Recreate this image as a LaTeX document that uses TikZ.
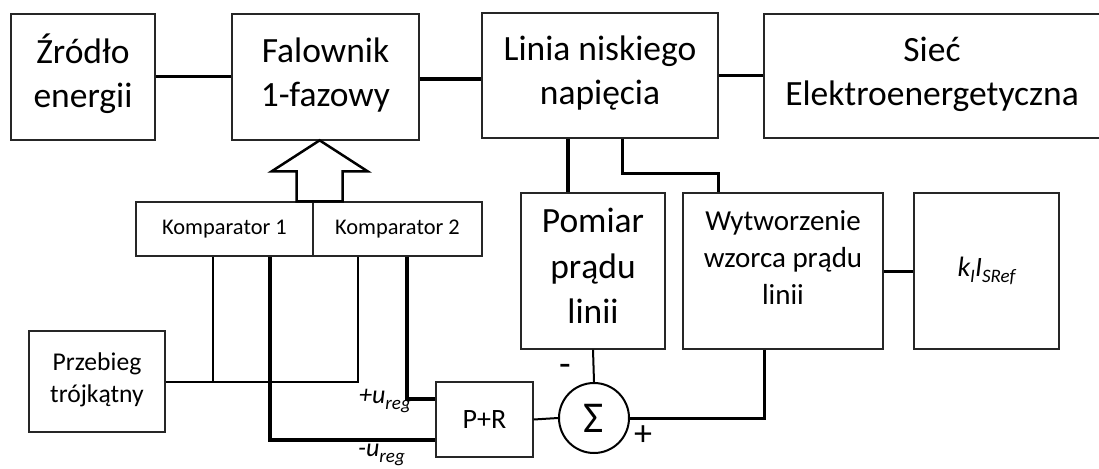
\documentclass[tikz,border=0pt]{standalone}
\usepackage{fontspec}
\setmainfont{Carlito}
\newcommand\bstrut{\vrule height .75em depth .35em width 0pt}
\newcommand\lowidx[2]{\raisebox{-0.2em}{\fontsize{#1}{#1}\selectfont #2}}
\begin{document}
\begin{tikzpicture}[x=1pt,y=-1pt,
  box/.style={draw=black!85, line width=1.3pt, rectangle, inner sep=0pt, align=center},
  bigtxt/.style={font=\fontsize{35.5}{44}\selectfont},
  wA/.style={line width=4pt},
  wB/.style={line width=3pt},
  wC/.style={line width=2pt}]
\useasboundingbox (0,0) rectangle (1099,468);

% power path
\node[box,bigtxt,minimum width=144,minimum height=126] (zrodlo) at (83,77) {\bstrut Źródło\\energii\bstrut};
\node[box,bigtxt,minimum width=187,minimum height=126] (falownik) at (325.5,77) {\bstrut Falownik\\1-fazowy\bstrut};
\node[box,bigtxt,minimum width=236,minimum height=125] (linia) at (600,75.5) {\bstrut Linia niskiego\\napięcia\bstrut};
\node[box,bigtxt,minimum width=336,minimum height=124] (siec) at (932,76) {\bstrut Sieć\\Elektroenergetyczna\bstrut};

% control path
\node[box,font=\fontsize{22.4}{27}\selectfont,minimum width=177,minimum height=54] (komp1) at (224.5,229) {Komparator 1};
\node[box,font=\fontsize{22.4}{27}\selectfont,minimum width=169,minimum height=54] (komp2) at (397.5,229) {Komparator 2};
\node[box,font=\fontsize{25.6}{32}\selectfont,minimum width=136,minimum height=101] (trojkat) at (97,381.5) {\bstrut Przebieg\\trójkątny\bstrut};
\node[box,font=\fontsize{35.5}{45.5}\selectfont,minimum width=144,minimum height=156] (pomiar) at (593,271) {\bstrut Pomiar\\prądu\\linii\bstrut};
\node[box,font=\fontsize{29}{37}\selectfont,minimum width=200,minimum height=156] (wzorzec) at (783,271) {\bstrut Wytworzenie\\wzorca prądu\\linii\bstrut\\[-8pt]};
\node[box,font=\fontsize{28}{34}\selectfont\itshape,minimum width=145,minimum height=156] (kref) at (986.5,271) {k\lowidx{19}{I}I\lowidx{19}{SRef}};
\node[box,font=\fontsize{28}{34}\selectfont,minimum width=97,minimum height=75] (pr) at (484.5,419.5) {P+R};
\node[draw=black, line width=2pt, circle, minimum size=70, inner sep=0pt, font=\fontsize{44}{44}\selectfont] (sum) at (594,418) {Σ};

% sign and signal labels
\node[font=\fontsize{38}{38}\selectfont] (minus) at (565,370) {-};
\node[font=\fontsize{36}{36}\selectfont] (plus) at (643,436) {+};
\node[anchor=east, inner sep=0pt, font=\fontsize{26}{26}\selectfont\itshape] (uplus) at (411,401) {+u\lowidx{19}{reg}};
\node[anchor=east, inner sep=0pt, font=\fontsize{26}{26}\selectfont\itshape] (uminus) at (405,455) {-u\lowidx{19}{reg}};

% power connections
\draw[wB] (zrodlo.east) -- (falownik.west);
\draw[wA] ([yshift=-2pt]falownik.east) -- ([yshift=-2pt]falownik.east -| linia.west);
\draw[line width=2.5pt] (linia.east) -- (linia.east -| siec.west);
\draw[wA] ([xshift=-25pt]pomiar.north) -- ([xshift=-25pt]pomiar.north |- linia.south);
\coordinate (tap) at (0,173);
\draw[wB] ([xshift=22pt]linia.south) -- ([xshift=22pt]linia.south |- tap) -| ([xshift=-65pt]wzorzec.north);

% feedback connections
\draw[wB] (wzorzec.east) -- (kref.west);
\draw[wB] ([xshift=-19pt]wzorzec.south) |- (sum.east);
\draw[wC] (pomiar.south) -- (sum.north);
\draw[wC] (pr.east) -- (sum.west);
\draw[wA] ([xshift=9.5pt]komp2.south) |- ([yshift=20.5pt]pr.west);
\draw[wA] ([xshift=45.5pt]komp1.south) |- ([yshift=-20.5pt]pr.west);

% carrier wave to both comparators
\draw[wC] (trojkat.east) -| ([xshift=-39.5pt]komp2.south);
\draw[wC] ([xshift=-11.5pt]komp1.south) -- ([xshift=-11.5pt]komp1.south |- trojkat.east);

% gate signals block arrow
\draw[line width=2.5pt, fill=white, line join=miter]
  ([xshift=-17pt]komp1.north east) -- ++(0,-30) -- ++(-25,0) -- ++(48,-31)
  -- ++(48,31) -- ++(-25,0) -- ++(0,30) -- cycle;
\end{tikzpicture}
\end{document}
